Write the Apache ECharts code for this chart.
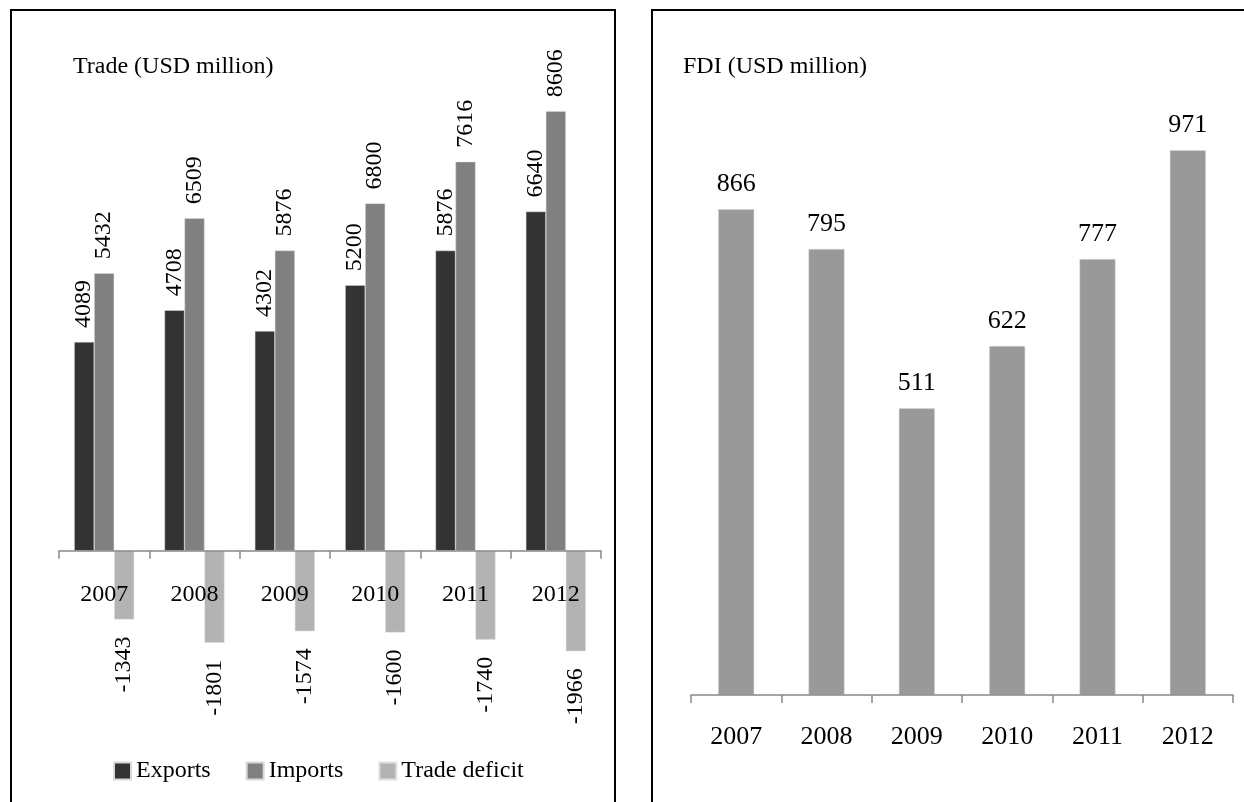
<!DOCTYPE html>
<html>
<head>
<meta charset="utf-8">
<script src="https://cdn.jsdelivr.net/npm/echarts@6/dist/echarts.min.js"></script>
<style>
    html, body {margin: 0; padding: 0; background: #fff;}
    #main {width: 1244px; height: 802px;}
</style>
</head>
<body>
<div id="main"></div>
<script>
// 数据
const years = ['2007', '2008', '2009', '2010', '2011', '2012'];
const exportsData = [4089, 4708, 4302, 5200, 5876, 6640];
const importsData = [5432, 6509, 5876, 6800, 7616, 8606];
const deficitData = [-1343, -1801, -1574, -1600, -1740, -1966];
const fdiData = [866, 795, 511, 622, 777, 971];

const font = 'Liberation Serif';

const myChart = echarts.init(document.getElementById('main'));

// 正值标签在柱顶上方，负值标签在柱底下方，都竖排
const upLabel = {
    show: true,
    position: 'top',
    rotate: 90,
    align: 'left',
    verticalAlign: 'middle',
    distance: 14,
    fontFamily: font,
    fontSize: 24,
    color: '#000'
};
const downLabel = {
    show: true,
    position: 'bottom',
    rotate: 90,
    align: 'right',
    verticalAlign: 'middle',
    distance: 17,
    fontFamily: font,
    fontSize: 24,
    color: '#000'
};

const catAxis = (gridIndex, size, margin) => ({
    type: 'category',
    gridIndex: gridIndex,
    z: 5,
    data: years,
    axisLine: {onZero: true, lineStyle: {color: '#888', width: 1.5}},
    axisTick: {show: true, length: 8, lineStyle: {color: '#888', width: 1.5}},
    axisLabel: {fontFamily: font, fontSize: size, color: '#000', margin: margin}
});

const option = {
    backgroundColor: '#fff',
    animation: false,
    title: [{
        text: 'Trade (USD million)',
        left: 68,
        top: 50,
        textStyle: {fontFamily: font, fontSize: 24, fontWeight: 'normal', color: '#000'}
    }, {
        text: 'FDI (USD million)',
        left: 678,
        top: 50,
        textStyle: {fontFamily: font, fontSize: 24, fontWeight: 'normal', color: '#000'}
    }],
    legend: {
        left: 113,
        top: 759,
        padding: 0,
        itemWidth: 17,
        itemHeight: 17,
        itemGap: 35,
        icon: 'rect',
        textStyle: {fontFamily: font, fontSize: 24, color: '#000'},
        data: ['Exports', 'Imports', 'Trade deficit']
    },
    grid: [
        {left: 59, top: 91, width: 542, height: 562},
        {left: 691, top: 134, width: 542, height: 561}
    ],
    // 左图年份标签要贴着零轴，不在网格底部，并压在柱子上面
    xAxis: [catAxis(0, 24, -70), catAxis(1, 26, 29)],
    yAxis: [
        {type: 'value', gridIndex: 0, min: -2000, max: 9000, show: false, splitLine: {show: false}},
        {type: 'value', gridIndex: 1, min: 0, max: 1000, show: false, splitLine: {show: false}}
    ],
    series: [
        {
            name: 'Exports', type: 'bar', xAxisIndex: 0, yAxisIndex: 0,
            data: exportsData, barWidth: 20, barGap: '0%',
            itemStyle: {color: '#333333', borderColor: '#d8d8d8', borderWidth: 0.5},
            label: upLabel
        },
        {
            name: 'Imports', type: 'bar', xAxisIndex: 0, yAxisIndex: 0,
            data: importsData, barWidth: 20, barGap: '0%',
            itemStyle: {color: '#808080', borderColor: '#d8d8d8', borderWidth: 0.5},
            label: upLabel
        },
        {
            name: 'Trade deficit', type: 'bar', xAxisIndex: 0, yAxisIndex: 0,
            data: deficitData, barWidth: 20, barGap: '0%',
            itemStyle: {color: '#b3b3b3', borderColor: '#e0e0e0', borderWidth: 0.5},
            label: downLabel
        },
        {
            name: 'FDI', type: 'bar', xAxisIndex: 1, yAxisIndex: 1,
            data: fdiData, barWidth: 36,
            itemStyle: {color: '#999999', borderColor: '#d8d8d8', borderWidth: 0.5},
            label: {
                show: true, position: 'top', distance: 12,
                fontFamily: font, fontSize: 26, color: '#000'
            }
        }
    ],
    graphic: [
        {type: 'rect', shape: {x: 11, y: 10, width: 604, height: 900}, style: {fill: 'none', stroke: '#000', lineWidth: 2}, z: 100},
        {type: 'rect', shape: {x: 652, y: 10, width: 700, height: 900}, style: {fill: 'none', stroke: '#000', lineWidth: 2}, z: 100}
    ]
};

myChart.setOption(option, true);
</script>
</body>
</html>
